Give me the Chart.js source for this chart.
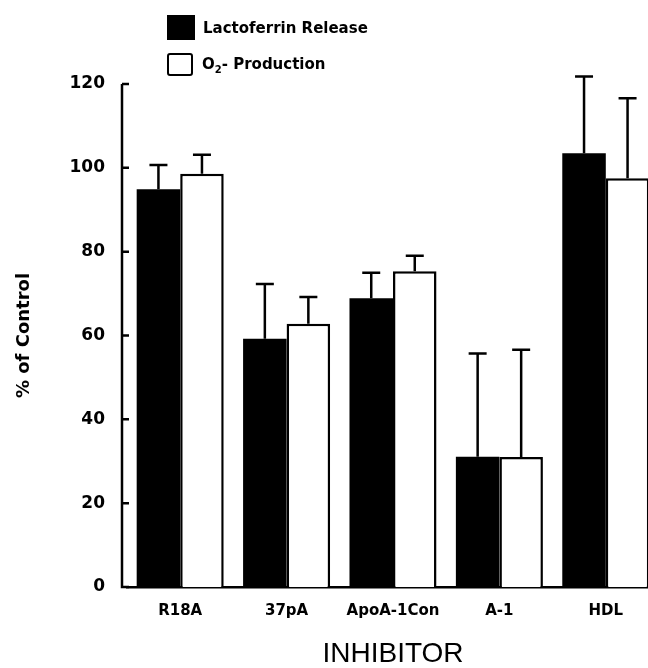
<!DOCTYPE html>
<html>
<head>
<meta charset="utf-8">
<script src="https://cdn.jsdelivr.net/npm/chart.js@4.4.0/dist/chart.umd.min.js"></script>
<style>
    html, body { margin: 0; padding: 0; background: #fff; overflow: hidden; width: 648px; height: 668px; }
    #wrap { position: relative; width: 661px; height: 668px; }
    #legend { position: absolute; left: 167px; top: 15px; font-family: "DejaVu Sans", sans-serif; font-weight: bold; font-size: 15px; color: #000; }
    .item { display: flex; align-items: center; height: 25px; margin-bottom: 12px; }
    .box { width: 28px; height: 25px; margin-right: 8px; box-sizing: border-box; }
    .black { background: #000; }
    .white { background: #fff; border: 2.5px solid #000; border-radius: 3px; width: 26px; height: 23px; margin-right: 9px; }
    sub { font-size: 10px; }
</style>
</head>
<body>
<div id="wrap">
    <canvas id="bar" width="661" height="668"></canvas>
    <div id="legend">
        <div class="item"><div class="box black"></div><span>Lactoferrin Release</span></div>
        <div class="item"><div class="box white"></div><span>O<sub>2</sub>- Production</span></div>
    </div>
</div>
<script>
    // groups along the x axis
    var inhibitors = ['R18A', '37pA', 'ApoA-1Con', 'A-1', 'HDL'];
    // % of control
    var lactoferrin = [94.9, 59.2, 68.9, 31.1, 103.5];
    var lactoferrinErr = [5.8, 13.1, 6.1, 24.6, 18.3];
    var superoxide = [98.6, 62.8, 75.3, 31.0, 97.5];
    var superoxideErr = [4.5, 6.4, 3.7, 25.6, 19.1];
    var yTicks = [0, 20, 40, 60, 80, 100, 120];

    var errors = [lactoferrinErr, superoxideErr];
    var AXIS_GAP = 5; // y axis line sits a little left of the first group

    // error bars (upper half only) drawn from each bar top
    var errorBars = {
        id: 'errorBars',
        afterDatasetsDraw: function (chart) {
            var ctx = chart.ctx;
            var y = chart.scales.y;
            ctx.save();
            ctx.strokeStyle = '#000';
            ctx.lineWidth = 2.5;
            chart.data.datasets.forEach(function (ds, i) {
                chart.getDatasetMeta(i).data.forEach(function (bar, j) {
                    var top = y.getPixelForValue(ds.data[j] + errors[i][j]);
                    ctx.beginPath();
                    ctx.moveTo(bar.x, bar.y);
                    ctx.lineTo(bar.x, top);
                    ctx.moveTo(bar.x - 9, top);
                    ctx.lineTo(bar.x + 9, top);
                    ctx.stroke();
                });
            });
            ctx.restore();
        }
    };

    // y axis line and tick marks pointing into the plot
    var yAxisLine = {
        id: 'yAxisLine',
        afterDraw: function (chart) {
            var ctx = chart.ctx;
            var y = chart.scales.y;
            var x0 = chart.chartArea.left - AXIS_GAP;
            var yb = y.getPixelForValue(0);
            ctx.save();
            ctx.strokeStyle = '#000';
            ctx.lineWidth = 2.5;
            ctx.beginPath();
            ctx.moveTo(x0, y.getPixelForValue(120));
            ctx.lineTo(x0, yb);
            ctx.lineTo(chart.chartArea.left + 1, yb);
            yTicks.forEach(function (v) {
                var py = y.getPixelForValue(v);
                ctx.moveTo(x0, py);
                ctx.lineTo(x0 + 7, py);
            });
            ctx.stroke();
            ctx.restore();
        }
    };

    var ctx = document.getElementById('bar').getContext('2d');
    new Chart(ctx, {
        type: 'bar',
        data: {
            labels: inhibitors,
            datasets: [
                {
                    label: 'Lactoferrin Release',
                    data: lactoferrin,
                    backgroundColor: '#000',
                    borderWidth: 0,
                    categoryPercentage: 0.818,
                    barPercentage: 1.0
                },
                {
                    label: 'O2- Production',
                    data: superoxide,
                    backgroundColor: '#fff',
                    borderColor: '#000',
                    borderWidth: 2.5,
                    categoryPercentage: 0.818,
                    barPercentage: 1.0
                }
            ]
        },
        options: {
            responsive: false,
            animation: false,
            layout: { padding: { top: 84, right: 2, left: 0, bottom: 0 } },
            plugins: {
                legend: { display: false },
                tooltip: { enabled: false }
            },
            scales: {
                x: {
                    grid: { display: false },
                    border: { display: true, color: '#000', width: 2.5 },
                    ticks: {
                        color: '#000',
                        padding: 7,
                        font: { family: 'DejaVu Sans', weight: 'bold', size: 15 }
                    },
                    title: {
                        display: true,
                        text: 'INHIBITOR',
                        color: '#000',
                        padding: 0,
                        font: { family: 'Liberation Sans', size: 28, lineHeight: 1 }
                    },
                    afterFit: function (s) { s.height = 81; }
                },
                y: {
                    min: 0,
                    max: 120,
                    grid: { display: false },
                    border: { display: false },
                    afterBuildTicks: function (s) {
                        s.ticks = yTicks.map(function (v) { return { value: v }; });
                    },
                    ticks: {
                        color: '#000',
                        padding: 14,
                        font: { family: 'DejaVu Sans', weight: 'bold', size: 17 }
                    },
                    title: {
                        display: true,
                        text: '% of Control',
                        color: '#000',
                        padding: { top: 14, bottom: 0 },
                        font: { family: 'DejaVu Sans', weight: 'bold', size: 18, lineHeight: 1.2 }
                    },
                    afterFit: function (s) { s.width = 127; }
                }
            }
        },
        plugins: [errorBars, yAxisLine]
    });
</script>
</body>
</html>
